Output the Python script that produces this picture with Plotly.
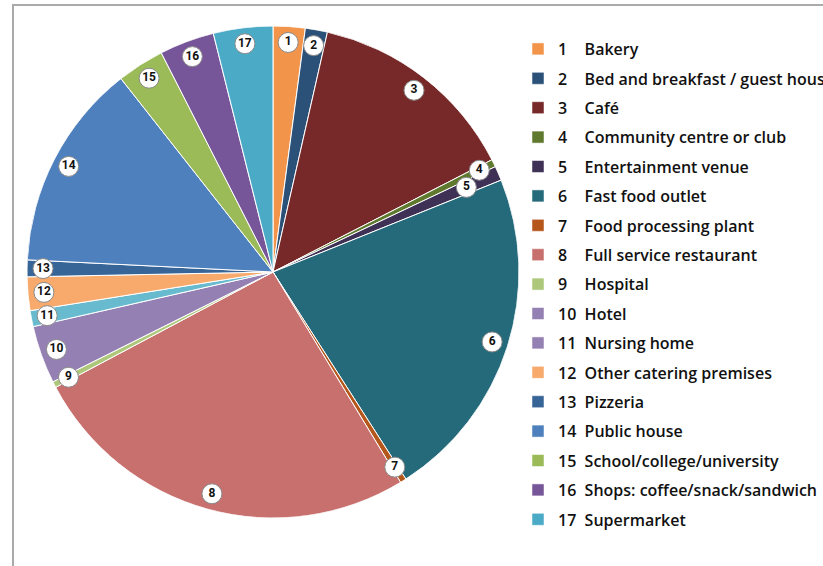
import math
import plotly.graph_objects as go

# ---- data ----
numbers = list(range(1, 18))
categories = ["Bakery", "Bed and breakfast / guest house", "Café", "Community centre or club",
              "Entertainment venue", "Fast food outlet", "Food processing plant",
              "Full service restaurant", "Hospital", "Hotel", "Nursing home",
              "Other catering premises", "Pizzeria", "Public house",
              "School/college/university", "Shops: coffee/snack/sandwich", "Supermarket"]
shares = [2.1, 1.45, 13.9, 0.5, 0.95, 22.0, 0.4, 25.9, 0.4, 3.8, 1.05, 2.2, 1.1, 13.6, 3.1, 3.6, 3.9]
slice_colors = ["#F2954B", "#2B5179", "#772929", "#5F7A2E", "#3F3156", "#256A7B", "#B5561B",
                "#C8706E", "#ADC77B", "#9580B3", "#68BACE", "#F7AA6C", "#386597", "#4E80BD",
                "#9BBB59", "#775599", "#4BABC6"]
legend_colors = ["#F2954B", "#2B5179", "#772929", "#5F7A2E", "#3F3156", "#256A7B", "#B5561B",
                 "#C8706E", "#ADC77B", "#9580B3", "#9580B3", "#F7AA6C", "#386597", "#4E80BD",
                 "#9BBB59", "#775599", "#4BABC6"]

W, H = 823, 566
total = sum(shares)
widths = [s / total * 360 for s in shares]
mids = []
acc = 0
for w in widths:
    mids.append(acc + w / 2)
    acc += w

# label radii: step inward when a label would collide with the previous one
label_r = []
prev = None
for m in mids:
    r = 0.935
    if prev is not None:
        pm, pr = prev
        dx = r * math.sin(math.radians(m)) - pr * math.sin(math.radians(pm))
        dy = r * math.cos(math.radians(m)) - pr * math.cos(math.radians(pm))
        if math.hypot(dx, dy) < 0.07:
            r = 0.858
    label_r.append(r)
    prev = (m, r)

fig = go.Figure()
fig.add_trace(go.Barpolar(
    r=[1] * len(shares), theta=mids, width=widths, base=0,
    marker=dict(color=slice_colors, line=dict(color="white", width=1)),
    showlegend=False, hoverinfo="skip", subplot="polar"))
fig.add_trace(go.Scatterpolar(
    r=label_r, theta=mids, mode="markers+text", text=[str(n) for n in numbers],
    textposition="middle center",
    textfont=dict(family="Roboto", size=12, color="#111", weight=700),
    marker=dict(size=20, color="white", line=dict(color="#8a8a8a", width=1)),
    showlegend=False, hoverinfo="skip", subplot="polar", cliponaxis=False))

for n, name, col in zip(numbers, categories, legend_colors):
    pad = "\u2007\u00a0\u00a0" if n < 10 else "\u00a0\u00a0"
    fig.add_trace(go.Barpolar(
        r=[0], theta=[0], width=[0], name=f"{n}{pad}{name}",
        marker=dict(color=col, line=dict(color="white", width=0.5)),
        legendgroup=f"g{n}", hoverinfo="skip", subplot="polar"))

fig.update_layout(
    width=W, height=H,
    margin=dict(l=0, r=0, t=0, b=0, autoexpand=False),
    paper_bgcolor="white", plot_bgcolor="white",
    polar=dict(
        domain=dict(x=[27 / W, 519 / W], y=[48 / H, 540 / H]),
        bgcolor="rgba(0,0,0,0)", bargap=0, hole=0,
        angularaxis=dict(rotation=90, direction="clockwise", visible=False),
        radialaxis=dict(range=[0, 1], visible=False)),
    legend=dict(x=518 / W, y=1 - 32 / H, xanchor="left", yanchor="top",
                font=dict(family="Open Sans", size=16, color="#111", weight=600),
                tracegroupgap=5.6, traceorder="grouped", bgcolor="rgba(0,0,0,0)"),
    shapes=[
        dict(type="line", xref="paper", yref="paper", x0=13 / W, x1=13 / W, y0=-0.02, y1=1 - 5 / H,
             line=dict(color="#aaaaaa", width=2)),
        dict(type="line", xref="paper", yref="paper", x0=12 / W, x1=1.02, y0=1 - 5 / H, y1=1 - 5 / H,
             line=dict(color="#aaaaaa", width=2)),
    ],
)

fig.write_html("out.html", config={"displayModeBar": False},
               post_script="document.body.style.margin='0';document.body.style.overflow='hidden';")
